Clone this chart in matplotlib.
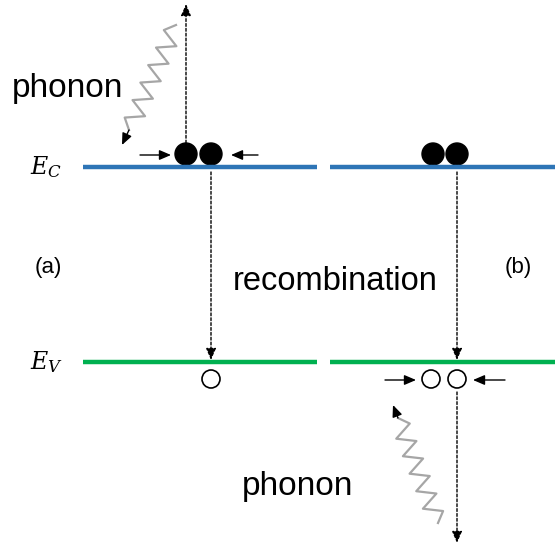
import numpy as np
import matplotlib.pyplot as plt

# band diagram: (a) electrons meet in conduction band, (b) holes meet in valence band
band_labels = ["$E_C$", "$E_V$"]
band_colors = ["#2E75B6", "#00B050"]
panel_labels = ["(a)", "(b)"]
texts = ["phonon", "recombination", "phonon"]

W, H = 555, 547
fig = plt.figure(figsize=(W / 100, H / 100), dpi=100)
ax = fig.add_axes([0, 0, 1, 1])
ax.set_xlim(0, W)
ax.set_ylim(H, 0)
ax.axis("off")

y_c, y_v = 167, 362
for y, col, lab in zip([y_c, y_v], band_colors, band_labels):
    ax.plot([83, 317], [y, y], color=col, lw=3.2, solid_capstyle="butt")
    ax.plot([330, 555], [y, y], color=col, lw=3.2, solid_capstyle="butt")
    ax.text(46, y, lab, fontsize=17, ha="center", va="center",
            family="DejaVu Serif", math_fontfamily="dejavuserif")

ax.text(48, 268, panel_labels[0], fontsize=16, ha="center", va="center", family="Liberation Sans")
ax.text(518, 268, panel_labels[1], fontsize=16, ha="center", va="center", family="Liberation Sans")

ax.text(12, 88, texts[0], fontsize=24, ha="left", va="center", family="Liberation Sans")
ax.text(335, 282, texts[1], fontsize=23.5, ha="center", va="center", family="Liberation Sans")
ax.text(298, 487, texts[2], fontsize=24, ha="center", va="center", family="Liberation Sans")

# electrons and holes
for x in [186, 211, 433, 457]:
    ax.add_patch(plt.Circle((x, 154), 11, color="black"))
for x in [211, 431, 457]:
    ax.add_patch(plt.Circle((x, 379), 9, facecolor="white", edgecolor="black", lw=1.2))


def arrow(x0, y0, x1, y1, ls="-", color="black", lw=1.0):
    ax.annotate("", xy=(x1, y1), xytext=(x0, y0),
                arrowprops=dict(arrowstyle="-|>,head_length=0.7,head_width=0.3",
                                color=color, lw=lw, linestyle=ls,
                                shrinkA=0, shrinkB=0))


# dotted transitions
arrow(186, 143, 186, 4, ls=(0, (2, 1.5)))
arrow(211, 172, 211, 360, ls=(0, (2, 1.5)))
arrow(457, 172, 457, 360, ls=(0, (2, 1.5)))
arrow(457, 392, 457, 543, ls=(0, (2, 1.5)))

# small pushing arrows
arrow(140, 155, 171, 155)
arrow(258, 155, 231, 155)
arrow(385, 380, 416, 380)
arrow(505, 380, 473, 380)


def zigzag(x0, y0, x1, y1, n=6, amp=9):
    t = np.linspace(0, 1, 2 * n + 1)
    dx, dy = x1 - x0, y1 - y0
    L = np.hypot(dx, dy)
    px, py = -dy / L, dx / L
    off = amp * np.array([0] + [(-1) ** i for i in range(2 * n - 1)] + [0])
    xs = x0 + dx * t + px * off
    ys = y0 + dy * t + py * off
    ax.plot(xs, ys, color="#A6A6A6", lw=1.6)
    return xs[-1], ys[-1]


xe, ye = zigzag(176, 25, 129, 130)
arrow(xe, ye, 122, 145, color="black", lw=1.0)
xe, ye = zigzag(438, 523, 398, 418)
arrow(xe, ye, 393, 405, color="black", lw=1.0)

fig.savefig("out.png", dpi=100)
